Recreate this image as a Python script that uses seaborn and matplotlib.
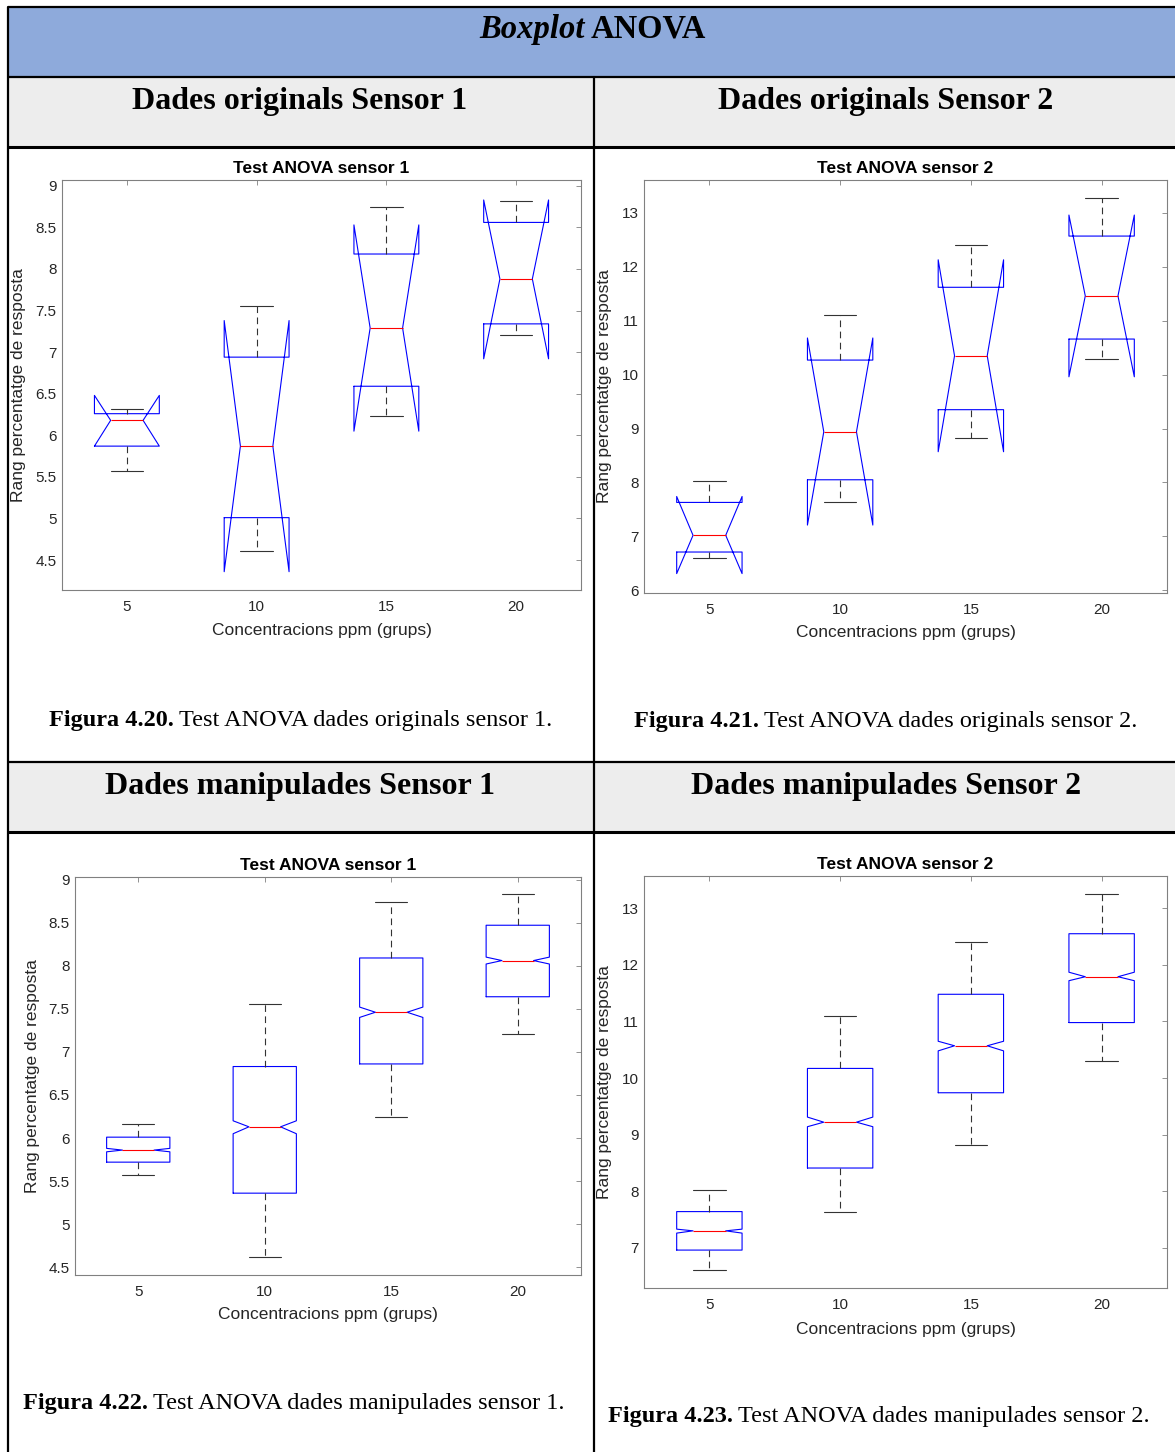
import matplotlib
matplotlib.use("Agg")
import matplotlib.pyplot as plt
from matplotlib.patches import Rectangle
import seaborn as sns

groups = ["5", "10", "15", "20"]

# Dades originals sensor 1 (notch limits)
o1_whislo = [5.57, 4.61, 6.23, 7.21]
o1_q1 = [5.87, 5.01, 6.59, 7.34]
o1_med = [6.18, 5.87, 7.29, 7.88]
o1_q3 = [6.26, 6.94, 8.18, 8.56]
o1_whishi = [6.32, 7.56, 8.74, 8.82]
o1_cilo = [5.87, 4.36, 6.05, 6.92]
o1_cihi = [6.48, 7.38, 8.53, 8.83]

# Dades originals sensor 2
o2_whislo = [6.60, 7.64, 8.83, 10.29]
o2_q1 = [6.71, 8.05, 9.35, 10.66]
o2_med = [7.02, 8.94, 10.35, 11.46]
o2_q3 = [7.63, 10.27, 11.62, 12.57]
o2_whishi = [8.03, 11.11, 12.41, 13.27]
o2_cilo = [6.31, 7.21, 8.57, 9.96]
o2_cihi = [7.74, 10.68, 12.13, 12.96]

# Dades manipulades sensor 1
m1_whislo = [5.57, 4.62, 6.24, 7.21]
m1_q1 = [5.72, 5.36, 6.86, 7.64]
m1_med = [5.86, 6.13, 7.46, 8.06]
m1_q3 = [6.01, 6.83, 8.09, 8.47]
m1_whishi = [6.16, 7.56, 8.74, 8.83]
m1_cilo = [5.84, 6.05, 7.40, 8.02]
m1_cihi = [5.88, 6.20, 7.52, 8.10]

# Dades manipulades sensor 2
m2_whislo = [6.60, 7.64, 8.82, 10.30]
m2_q1 = [6.96, 8.41, 9.74, 10.98]
m2_med = [7.30, 9.22, 10.57, 11.79]
m2_q3 = [7.64, 10.17, 11.48, 12.55]
m2_whishi = [8.02, 11.10, 12.40, 13.25]
m2_cilo = [7.26, 9.14, 10.48, 11.72]
m2_cihi = [7.33, 9.31, 10.65, 11.87]

ticks_s1 = [4.5, 5, 5.5, 6, 6.5, 7, 7.5, 8, 8.5, 9]
ticks_s2a = [6, 7, 8, 9, 10, 11, 12, 13]
ticks_s2b = [7, 8, 9, 10, 11, 12, 13]

sns.set_style("white")
plt.rcParams["font.family"] = ["Liberation Sans", "DejaVu Sans"]

W, H = 1175, 1452
fig = plt.figure(figsize=(W / 100, H / 100), dpi=100)

# table behind the plots, drawn in pixel units
bg = fig.add_axes([0, 0, 1, 1])
bg.set_xlim(0, W)
bg.set_ylim(H, 0)
bg.axis("off")

bg.add_patch(Rectangle((8, 7), W - 8, 70, color="#8eaadb", lw=0))
bg.add_patch(Rectangle((8, 77), W - 8, 70, color="#ededed", lw=0))
bg.add_patch(Rectangle((8, 762), W - 8, 70, color="#ededed", lw=0))

for y, lw in [(7, 1.6), (77, 1.6), (147, 2.2), (762, 1.6), (832, 2.2)]:
    bg.plot([8, W], [y, y], color="black", lw=lw, solid_capstyle="butt")
bg.plot([8, 8], [7, H], color="black", lw=1.6)
bg.plot([594, 594], [77, H], color="black", lw=1.6)

serif = ["Liberation Serif", "DejaVu Serif"]
bg.text(585, 38, "Boxplot", ha="right", va="baseline", fontsize=23.5, color="black",
        fontweight="bold", fontstyle="italic", family=serif)
bg.text(591, 38, "ANOVA", ha="left", va="baseline", fontsize=23.5, color="black",
        fontweight="bold", family=serif)

heads = [(300, 109, "Dades originals Sensor 1"), (886, 109, "Dades originals Sensor 2"),
         (300, 794, "Dades manipulades Sensor 1"), (886, 794, "Dades manipulades Sensor 2")]
for x, y, s in heads:
    bg.text(x, y, s, ha="center", va="baseline", fontsize=23, fontweight="bold",
            color="black", family=serif)

renderer = fig.canvas.get_renderer()
caps = [(49, 726, "Figura 4.20.", "Test ANOVA dades originals sensor 1."),
        (634, 727, "Figura 4.21.", "Test ANOVA dades originals sensor 2."),
        (23, 1409, "Figura 4.22.", "Test ANOVA dades manipulades sensor 1."),
        (608, 1422, "Figura 4.23.", "Test ANOVA dades manipulades sensor 2.")]
for x, y, b, s in caps:
    t = bg.text(x, y, b, ha="left", va="baseline", fontsize=17.5, fontweight="bold",
                color="black", family=serif)
    x2 = t.get_window_extent(renderer).x1
    bg.text(x2 + 5, y, s, ha="left", va="baseline", fontsize=17.5, color="black", family=serif)


def panel(box, title, whislo, q1, med, q3, whishi, cilo, cihi, ylim, yticks, ylab_x, xlab_y):
    l, t, r, b = box
    ax = fig.add_axes([l / W, 1 - b / H, (r - l) / W, (b - t) / H])
    stats = []
    for i in range(len(groups)):
        stats.append(dict(label=groups[i], whislo=whislo[i], q1=q1[i], med=med[i],
                          q3=q3[i], whishi=whishi[i], cilo=cilo[i], cihi=cihi[i], fliers=[]))
    ax.bxp(stats, positions=[1, 2, 3, 4], widths=0.5, shownotches=True, showfliers=False,
           boxprops=dict(color="blue", lw=0.8),
           medianprops=dict(color="red", lw=0.8),
           whiskerprops=dict(color="#333333", lw=0.8, linestyle=(0, (6, 4))),
           capprops=dict(color="#333333", lw=0.8))
    ax.set_xlim(0.5, 4.5)
    ax.set_ylim(*ylim)
    ax.set_xticks([1, 2, 3, 4])
    ax.set_xticklabels(groups)
    ax.set_yticks(yticks)
    ax.set_yticklabels(["%g" % v for v in yticks])
    ax.tick_params(direction="in", top=True, right=True, length=3.6, width=0.6,
                   color="#808080", labelcolor="#262626", labelsize=11)
    ax.tick_params(axis="x", pad=7)
    ax.tick_params(axis="y", pad=4)
    for sp in ax.spines.values():
        sp.set_color("#808080")
        sp.set_linewidth(0.8)
    ax.set_facecolor("white")
    ax.set_title(title, fontsize=12.5, fontweight="bold", color="black", pad=5)
    ax.set_ylabel("Rang percentatge de resposta", fontsize=12.5, color="#262626")
    ax.set_xlabel("Concentracions ppm (grups)", fontsize=12.5, color="#262626")
    ax.yaxis.set_label_coords(ylab_x, 0.5)
    ax.xaxis.set_label_coords(0.5, xlab_y)
    return ax


panel((62, 180, 581, 590), "Test ANOVA sensor 1",
      o1_whislo, o1_q1, o1_med, o1_q3, o1_whishi, o1_cilo, o1_cihi,
      (4.14, 9.07), ticks_s1, -0.069, -0.080)
panel((644, 180, 1167, 593), "Test ANOVA sensor 2",
      o2_whislo, o2_q1, o2_med, o2_q3, o2_whishi, o2_cilo, o2_cihi,
      (5.95, 13.61), ticks_s2a, -0.061, -0.078)
panel((75, 877, 581, 1275), "Test ANOVA sensor 1",
      m1_whislo, m1_q1, m1_med, m1_q3, m1_whishi, m1_cilo, m1_cihi,
      (4.41, 9.03), ticks_s1, -0.069, -0.080)
panel((644, 876, 1167, 1288), "Test ANOVA sensor 2",
      m2_whislo, m2_q1, m2_med, m2_q3, m2_whishi, m2_cilo, m2_cihi,
      (6.29, 13.57), ticks_s2b, -0.061, -0.082)

fig.savefig("out.png", dpi=100)
